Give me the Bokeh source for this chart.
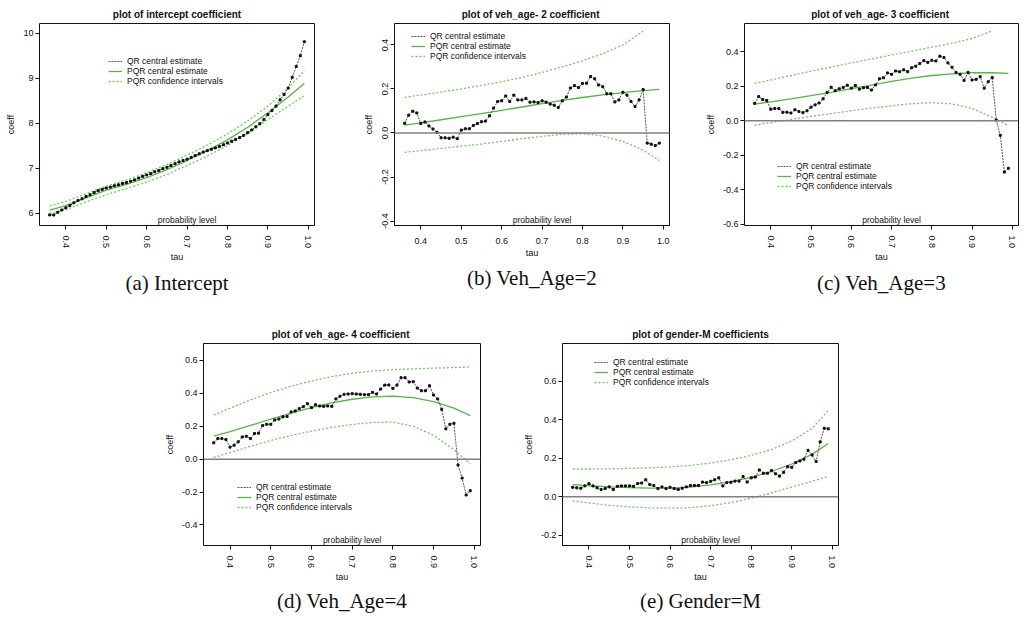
from bokeh.plotting import figure
from bokeh.layouts import column, row, Spacer
from bokeh.models import (Range1d, FixedTicker, Legend, LegendItem, Label, Title,
                          NumeralTickFormatter, Span)
from bokeh.embed import file_html
from bokeh.resources import INLINE

# ---------------- data ----------------
tau = [0.36, 0.37, 0.38, 0.39, 0.40, 0.41, 0.42, 0.43, 0.44, 0.45, 0.46, 0.47, 0.48,
       0.49, 0.50, 0.51, 0.52, 0.53, 0.54, 0.55, 0.56, 0.57, 0.58, 0.59, 0.60, 0.61,
       0.62, 0.63, 0.64, 0.65, 0.66, 0.67, 0.68, 0.69, 0.70, 0.71, 0.72, 0.73, 0.74,
       0.75, 0.76, 0.77, 0.78, 0.79, 0.80, 0.81, 0.82, 0.83, 0.84, 0.85, 0.86, 0.87,
       0.88, 0.89, 0.90, 0.91, 0.92, 0.93, 0.94, 0.95, 0.96, 0.97, 0.98, 0.99]
knots = [0.36, 0.40, 0.45, 0.50, 0.55, 0.60, 0.65, 0.70, 0.75, 0.80, 0.85, 0.90, 0.95, 0.99]
knots_up_short = [0.36, 0.40, 0.45, 0.50, 0.55, 0.60, 0.65, 0.70, 0.75, 0.80, 0.85, 0.90, 0.95]
x_ticks = [0.4, 0.5, 0.6, 0.7, 0.8, 0.9, 1.0]

# (a) intercept
a_qr = [5.96, 5.96, 6.02, 6.07, 6.12, 6.17, 6.23, 6.28, 6.32, 6.37, 6.41, 6.46, 6.50,
        6.53, 6.56, 6.58, 6.61, 6.63, 6.66, 6.68, 6.71, 6.74, 6.78, 6.82, 6.85, 6.88,
        6.92, 6.95, 6.99, 7.02, 7.06, 7.10, 7.14, 7.17, 7.20, 7.24, 7.28, 7.32, 7.36,
        7.39, 7.42, 7.45, 7.48, 7.52, 7.56, 7.60, 7.64, 7.68, 7.73, 7.79, 7.85, 7.92,
        7.99, 8.08, 8.19, 8.28, 8.38, 8.52, 8.64, 8.78, 9.02, 9.26, 9.50, 9.81]
a_cen = [6.07, 6.17, 6.34, 6.51, 6.64, 6.79, 6.97, 7.17, 7.39, 7.63, 7.91, 8.23, 8.58, 8.88]
a_up = [6.16, 6.26, 6.43, 6.60, 6.74, 6.90, 7.08, 7.29, 7.51, 7.76, 8.05, 8.38, 8.78, 9.17]
a_lo = [5.99, 6.08, 6.25, 6.41, 6.55, 6.69, 6.86, 7.06, 7.27, 7.50, 7.77, 8.08, 8.38, 8.61]
a_yticks = [6, 7, 8, 9, 10]

# (b) veh_age 2
b_qr = [0.044, 0.081, 0.099, 0.091, 0.043, 0.050, 0.032, 0.018, 0.003, -0.022, -0.022,
        -0.024, -0.019, -0.026, 0.013, 0.019, 0.019, 0.034, 0.043, 0.051, 0.054, 0.078,
        0.113, 0.143, 0.146, 0.168, 0.143, 0.172, 0.150, 0.150, 0.157, 0.140, 0.141,
        0.138, 0.146, 0.140, 0.131, 0.126, 0.116, 0.146, 0.163, 0.204, 0.215, 0.206,
        0.225, 0.226, 0.256, 0.246, 0.218, 0.210, 0.178, 0.178, 0.141, 0.150, 0.185,
        0.172, 0.143, 0.120, 0.150, 0.197, -0.046, -0.051, -0.057, -0.046]
b_cen = [0.036, 0.046, 0.060, 0.074, 0.088, 0.103, 0.118, 0.133, 0.148, 0.161, 0.173,
         0.183, 0.192, 0.198]
b_up = [0.162, 0.172, 0.186, 0.200, 0.216, 0.233, 0.252, 0.275, 0.300, 0.328, 0.360,
        0.400, 0.462]
b_lo = [-0.088, -0.080, -0.070, -0.060, -0.050, -0.038, -0.026, -0.015, -0.006, -0.003,
        -0.014, -0.038, -0.078, -0.125]
b_yticks = [-0.4, -0.2, 0.0, 0.2, 0.4]

# (c) veh_age 3
c_qr = [0.101, 0.140, 0.123, 0.118, 0.067, 0.071, 0.071, 0.049, 0.050, 0.045, 0.064,
        0.054, 0.047, 0.058, 0.079, 0.092, 0.103, 0.127, 0.164, 0.194, 0.174, 0.185,
        0.193, 0.206, 0.189, 0.204, 0.183, 0.191, 0.193, 0.178, 0.207, 0.243, 0.249,
        0.277, 0.269, 0.288, 0.284, 0.295, 0.284, 0.307, 0.316, 0.331, 0.348, 0.338,
        0.350, 0.346, 0.374, 0.366, 0.335, 0.310, 0.280, 0.269, 0.234, 0.280, 0.236,
        0.240, 0.255, 0.189, 0.226, 0.250, 0.004, -0.084, -0.297, -0.275]
c_cen = [0.097, 0.110, 0.127, 0.145, 0.164, 0.186, 0.207, 0.228, 0.247, 0.262, 0.272,
         0.278, 0.278, 0.274]
c_up = [0.217, 0.236, 0.262, 0.287, 0.311, 0.335, 0.358, 0.381, 0.403, 0.426, 0.449,
        0.476, 0.520]
c_lo = [-0.026, -0.010, 0.008, 0.025, 0.042, 0.058, 0.073, 0.087, 0.099, 0.105, 0.098,
        0.072, 0.020, -0.028]
c_yticks = [-0.6, -0.4, -0.2, 0.0, 0.2, 0.4]

# (d) veh_age 4
d_qr = [0.099, 0.125, 0.125, 0.119, 0.073, 0.085, 0.105, 0.135, 0.139, 0.125, 0.156,
        0.158, 0.204, 0.212, 0.212, 0.238, 0.244, 0.257, 0.259, 0.287, 0.293, 0.307,
        0.319, 0.337, 0.313, 0.331, 0.323, 0.321, 0.323, 0.321, 0.366, 0.382, 0.394,
        0.396, 0.398, 0.396, 0.394, 0.392, 0.392, 0.406, 0.396, 0.426, 0.450, 0.451,
        0.430, 0.450, 0.495, 0.495, 0.469, 0.471, 0.432, 0.416, 0.416, 0.446, 0.390,
        0.366, 0.303, 0.184, 0.212, 0.218, -0.036, -0.115, -0.218, -0.192]
d_cen = [0.140, 0.168, 0.205, 0.243, 0.280, 0.313, 0.342, 0.364, 0.379, 0.383, 0.374,
         0.350, 0.310, 0.265]
d_up = [0.267, 0.310, 0.360, 0.405, 0.443, 0.475, 0.502, 0.522, 0.536, 0.544, 0.549,
        0.553, 0.557, 0.560]
d_lo = [0.010, 0.040, 0.078, 0.113, 0.144, 0.170, 0.193, 0.211, 0.223, 0.225, 0.200,
        0.145, 0.058, -0.030]
d_yticks = [-0.4, -0.2, 0.0, 0.2, 0.4, 0.6]

# (e) gender M
e_qr = [0.049, 0.046, 0.044, 0.056, 0.068, 0.056, 0.046, 0.037, 0.042, 0.051, 0.037,
        0.054, 0.056, 0.056, 0.056, 0.054, 0.068, 0.071, 0.088, 0.063, 0.058, 0.042,
        0.051, 0.042, 0.049, 0.042, 0.037, 0.044, 0.051, 0.058, 0.058, 0.058, 0.076,
        0.073, 0.080, 0.088, 0.098, 0.056, 0.073, 0.075, 0.081, 0.081, 0.105, 0.076,
        0.098, 0.102, 0.139, 0.122, 0.122, 0.136, 0.119, 0.107, 0.127, 0.156, 0.153,
        0.178, 0.186, 0.195, 0.241, 0.217, 0.183, 0.285, 0.356, 0.353]
e_cen = [0.063, 0.057, 0.051, 0.047, 0.045, 0.045, 0.050, 0.061, 0.078, 0.101, 0.131,
         0.170, 0.220, 0.277]
e_up = [0.144, 0.144, 0.145, 0.147, 0.150, 0.155, 0.163, 0.175, 0.192, 0.215, 0.245,
        0.290, 0.355, 0.449]
e_lo = [-0.022, -0.033, -0.045, -0.053, -0.058, -0.060, -0.057, -0.047, -0.031, -0.008,
        0.020, 0.050, 0.080, 0.105]
e_yticks = [-0.2, 0.0, 0.2, 0.4, 0.6]

legend_labels = ["QR central estimate", "PQR central estimate", "PQR confidence intervals"]

# ---------------- styling ----------------
FONT = "Liberation Sans"
SERIF = "Liberation Serif"
INK = "#111111"
GREEN = "#55b545"
GREEN_CI = "#72c760"


def panel(title, caption, qr, cen, up, up_knots, lo, ylim, yticks, yfmt,
          legend_xy, width, left, right, height, top, bottom,
          x_vertical=True, y_vertical=False, cap_offset=0, cap_standoff=7):
    p = figure(width=width, height=height, output_backend="svg", toolbar_location=None,
               x_range=Range1d(0.3348, 1.0152), y_range=Range1d(ylim[0], ylim[1]),
               min_border_left=left, min_border_right=right,
               min_border_top=top, min_border_bottom=bottom)
    p.grid.visible = False
    p.outline_line_color = INK
    p.outline_line_width = 1
    p.title.text = title
    p.title.align = "center"
    p.title.text_font = FONT
    p.title.text_font_size = "10px"
    p.title.text_font_style = "bold"
    p.title.text_color = INK
    p.title.standoff = 7

    xa = p.xaxis[0]
    xa.ticker = FixedTicker(ticks=x_ticks)
    xa.formatter = NumeralTickFormatter(format="0.0")
    xa.major_label_orientation = "vertical" if x_vertical else "horizontal"
    xa.major_label_standoff = 6 if x_vertical else 8
    xa.axis_label = "tau"
    xa.axis_label_standoff = 1
    ya = p.yaxis[0]
    ya.ticker = FixedTicker(ticks=yticks)
    ya.formatter = NumeralTickFormatter(format=yfmt)
    ya.major_label_orientation = "vertical" if y_vertical else "horizontal"
    ya.major_label_standoff = 2
    ya.axis_label = "coeff"
    ya.axis_label_standoff = 6 if y_vertical else 4
    for ax in (xa, ya):
        ax.axis_line_color = None
        ax.major_tick_out = 4
        ax.major_tick_in = 0
        ax.minor_tick_out = 0
        ax.minor_tick_in = 0
        ax.major_tick_line_color = INK
        ax.major_label_text_font = FONT
        ax.major_label_text_font_size = "9px"
        ax.major_label_text_color = INK
        ax.axis_label_text_font = FONT
        ax.axis_label_text_font_size = "9px"
        ax.axis_label_text_font_style = "normal"
        ax.axis_label_text_color = INK

    p.add_layout(Span(location=0, dimension="width", line_color="#808080", line_width=1.5))

    r_up = p.line(up_knots, up, line_color=GREEN_CI, line_width=1.3, line_dash="2 2")
    p.line(knots, lo, line_color=GREEN_CI, line_width=1.3, line_dash="2 2")
    r_cen = p.line(knots, cen, line_color=GREEN, line_width=1.3)
    r_qr = p.line(tau, qr, line_color="#555555", line_width=1, line_dash="2 1")
    p.scatter(tau, qr, marker="square", size=2, color=INK)

    leg = Legend(items=[LegendItem(label=legend_labels[0], renderers=[r_qr]),
                        LegendItem(label=legend_labels[1], renderers=[r_cen]),
                        LegendItem(label=legend_labels[2], renderers=[r_up])],
                 location=legend_xy, border_line_color=None, background_fill_alpha=0,
                 label_text_font=FONT, label_text_font_size="8.5px",
                 label_text_color=INK, glyph_width=14, glyph_height=8,
                 label_height=8, label_standoff=5, spacing=0, padding=0, margin=0)
    p.add_layout(leg)

    p.add_layout(Label(x=0.7, y=ylim[0], text="probability level", text_align="center",
                       text_baseline="bottom", y_offset=1, text_font=FONT,
                       text_font_size="8.5px", text_color=INK))

    cap = Title(text=caption, align="center", text_font=SERIF, text_font_size="21px",
                text_font_style="normal", text_color=INK, offset=cap_offset,
                standoff=cap_standoff)
    p.add_layout(cap, "below")
    return p


pa = panel("plot of intercept coefficient", "(a) Intercept", a_qr, a_cen, a_up, knots, a_lo,
           (5.726, 10.216), a_yticks, "0", (69, 139),
           341, 39, 27, 298, 23, 67, cap_offset=-9)
pb = panel("plot of veh_age- 2  coefficient", "(b) Veh_Age=2", b_qr, b_cen, b_up,
           knots_up_short, b_lo, (-0.42, 0.497), b_yticks, "0.0", (17, 164),
           340, 53, 12, 298, 23, 67, x_vertical=False, y_vertical=True, cap_offset=5)
pc = panel("plot of veh_age- 3  coefficient", "(c) Veh_Age=3", c_qr, c_cen, c_up,
           knots_up_short, c_lo, (-0.606, 0.563), c_yticks, "0.0", (33, 34),
           338, 63, 1, 298, 23, 67, cap_offset=-11)
pd_ = panel("plot of veh_age- 4  coefficient", "(d) Veh_Age=4", d_qr, d_cen, d_up, knots,
            d_lo, (-0.525, 0.703), d_yticks, "0.0", (34, 33),
            340, 43, 20, 316, 45, 65, cap_offset=-10, cap_standoff=3)
pe = panel("plot of gender-M coefficients", "(e) Gender=M", e_qr, e_cen, e_up, knots, e_lo,
           (-0.254, 0.797), e_yticks, "0.0", (32, 158),
           340, 62, 2, 316, 45, 65, cap_offset=-7, cap_standoff=3)

layout = column(row(pa, pb, pc), row(Spacer(width=160, height=316), pd_, pe))

open("out.html", "w").write(file_html(layout, INLINE))
